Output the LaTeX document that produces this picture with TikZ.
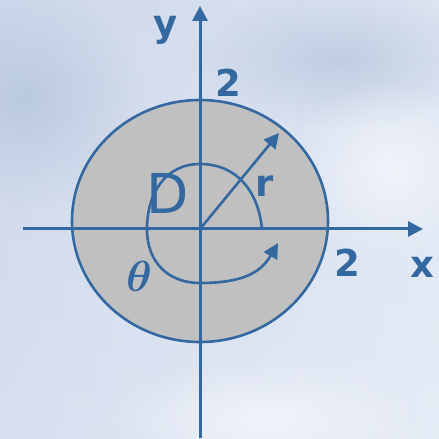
\documentclass[tikz,border=0pt]{standalone}
\usepackage{fontspec}
\setmainfont{DejaVu Sans}
\usetikzlibrary{arrows.meta, positioning, calc, fadings}
\definecolor{axisblue}{RGB}{52,104,160}
\definecolor{regiongray}{RGB}{192,192,192}
\definecolor{bgblue}{RGB}{192,205,229}
\definecolor{bglight}{RGB}{230,236,246}
\definecolor{bgshadow}{RGB}{170,188,214}
\tikzfading[name=softblob, inner color=transparent!45, outer color=transparent!100]

\begin{document}
\begin{tikzpicture}[
  x=1pt, y=1pt,
  axis/.style={-{Triangle[length=15pt, width=15pt]}, line width=3pt, axisblue},
  curve/.style={-{Triangle[length=15pt, width=15pt]}, line width=2.6pt, axisblue},
  tick/.style={font=\fontsize{37}{40}\selectfont\bfseries, text=axisblue, inner sep=0pt},
  region/.style={font=\fontsize{55}{58}\selectfont, text=axisblue, inner sep=0pt}
]
  % Background
  \useasboundingbox (-200,-210) rectangle (239,229);
  \shade[left color=bgblue, right color=bglight] (-200,-210) rectangle (239,229);
  \shade[top color=bglight!60!bgblue, bottom color=bglight, opacity=0.6] (-200,-210) rectangle (239,229);
  \begin{scope}
    \clip (-200,-210) rectangle (239,229);
    \fill[bgshadow, path fading=softblob] (-175,130) ellipse [x radius=120, y radius=110];
    \fill[bgshadow, path fading=softblob] (140,170) ellipse [x radius=150, y radius=70];
    \fill[white, path fading=softblob] (190,60) ellipse [x radius=100, y radius=90];
    \fill[white, path fading=softblob] (60,-190) ellipse [x radius=160, y radius=60];
  \end{scope}

  % Region D
  \filldraw[fill=regiongray, draw=axisblue, line width=2.6pt] (0,8) ellipse [x radius=128, y radius=121];

  % Axes
  \coordinate (o) at (0,0);
  \coordinate (xl) at (-177,0);
  \coordinate (xr) at (223,0);
  \coordinate (yb) at (0,-209);
  \coordinate (yt) at (0,223);
  \draw[axis] (xl) -- (xr);
  \draw[axis] (yb) -- (yt);

  % Radius and angle
  \coordinate (rend) at (79,96);
  \coordinate (tstart) at (62,0);
  \coordinate (tend) at (78,-14);
  \draw[curve] (o) -- (rend);
  \draw[curve] (tstart) .. controls (58,40) and (35,65) .. (0,65)
    .. controls (-35,65) and (-53,35) .. (-53,0)
    .. controls (-53,-35) and (-30,-54) .. (0,-54)
    .. controls (40,-54) and (60,-45) .. (tend);

  % Labels
  \node[tick] (ylab) at (-34,199) {y};
  \node[tick] (ytick) at (28,146) {2};
  \node[tick] (xtick) at (147,-34) {2};
  \node[tick] (xlab) at (222,-38) {x};
  \node[tick] (rlab) at (65,43) {r};
  \node[region] (dlab) at (-32,36) {D};
  \node[font=\Huge\boldmath, scale=1.75, text=axisblue, inner sep=0pt] (tlab) at (-61,-47) {$\theta$};
\end{tikzpicture}
\end{document}
